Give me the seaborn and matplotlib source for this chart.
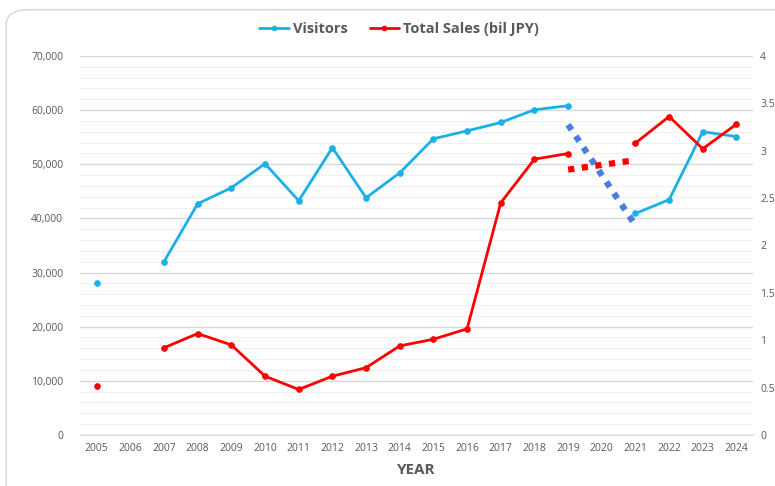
import numpy as np
import pandas as pd
import seaborn as sns
import matplotlib.pyplot as plt
from matplotlib.patches import FancyBboxPatch
from matplotlib.lines import Line2D
from matplotlib.ticker import FuncFormatter, MultipleLocator

years = list(range(2005, 2025))
visitors = [28100, np.nan, 32000, 42700, 45650, 50100, 43250, 53050, 43800, 48400,
            54700, 56150, 57700, 60050, 60800, np.nan, 40900, 43450, 56000, 55100]
sales = [0.52, np.nan, 0.92, 1.07, 0.95, 0.62, 0.48, 0.62, 0.71, 0.94,
         1.01, 1.12, 2.45, 2.91, 2.97, np.nan, 3.08, 3.36, 3.02, 3.28]
# dotted bridge over the 2020 gap (estimates)
bridge_years = [2019, 2021]
bridge_visitors = [57300, 38700]
bridge_sales = [2.80, 2.90]

blue = "#1cb0ea"
red = "#ff0000"
txt = "#595959"

df = pd.DataFrame({"year": years, "visitors": visitors, "sales": sales})
df["pos"] = range(len(df))
# split into connected runs so the gaps stay open
df["seg"] = df["visitors"].isna().cumsum()

sns.set_style("white")
plt.rcParams["font.family"] = ["Open Sans", "DejaVu Sans"]

fig = plt.figure(figsize=(7.75, 4.86), dpi=100)
frame = FancyBboxPatch((0.008, -0.1), 1.1, 1.08, boxstyle="round,pad=0,rounding_size=0.03",
                       transform=fig.transFigure, fc="white", ec="#d9d9d9", lw=1.2, zorder=-10)
fig.patches.append(frame)
ax = fig.add_axes([0.103, 0.105, 0.869, 0.78])
ax.set_facecolor("none")
ax2 = ax.twinx()

d = df.dropna()
sns.lineplot(data=d, x="pos", y="visitors", units="seg", estimator=None, color=blue,
             lw=2, marker="o", ms=4, mec=blue, ax=ax)
sns.lineplot(data=d, x="pos", y="sales", units="seg", estimator=None, color=red,
             lw=2, marker="o", ms=4, mec=red, ax=ax2)
bpos = [years.index(y) for y in bridge_years]
ax.plot(bpos, bridge_visitors, color="#4a7fdf", lw=4.5, ls=(0, (1, 1.2)))
ax2.plot(bpos, bridge_sales, color=red, lw=4.5, ls=(0, (1, 1.2)))

ax.set_xlim(-0.5, len(years) - 0.5)
ax.set_ylim(0, 70000)
ax2.set_ylim(0, 4)
ax.yaxis.set_major_locator(MultipleLocator(10000))
ax.yaxis.set_minor_locator(MultipleLocator(2000))
ax2.yaxis.set_major_locator(MultipleLocator(0.5))
ax.yaxis.set_major_formatter(FuncFormatter(lambda v, p: f"{int(v):,}"))
ax2.yaxis.set_major_formatter(FuncFormatter(lambda v, p: f"{v:g}"))
ax.grid(which="major", axis="y", color="#d9d9d9", lw=1)
ax.grid(which="minor", axis="y", color="#f0f0f0", lw=0.8)
ax.set_axisbelow(True)

ax.set_xticks(range(len(years)))
ax.set_xticklabels([str(y) for y in years])
ax.set_xticks(np.arange(-0.5, len(years)), minor=True)
ax.tick_params(axis="x", which="major", length=0, labelsize=7.5, colors=txt, pad=6)
ax.tick_params(axis="x", which="minor", length=4, color="#d9d9d9")
ax.tick_params(axis="y", which="both", length=0, labelsize=7.5, colors=txt, pad=12)
ax2.tick_params(axis="y", length=0, labelsize=7.5, colors=txt, pad=5)
for a in (ax, ax2):
    for s in ("top", "left", "right"):
        a.spines[s].set_visible(False)
ax.spines["bottom"].set_color("#d9d9d9")
ax2.spines["bottom"].set_visible(False)

ax.set_xlabel("YEAR", fontsize=11, fontweight="bold", color=txt, labelpad=6)
ax.set_ylabel("")
ax2.set_ylabel("")

handles = [Line2D([], [], color=blue, lw=2, marker="o", ms=3),
           Line2D([], [], color=red, lw=2, marker="o", ms=3)]
leg = fig.legend(handles, ["Visitors", "Total Sales (bil JPY)"], loc="center", bbox_to_anchor=(0.515, 0.94),
                 ncol=2, frameon=False, handlelength=2, columnspacing=1.5, handletextpad=0.3,
                 prop={"size": 10.5, "weight": "bold"})
for t in leg.get_texts():
    t.set_color(txt)

fig.savefig("out.png", dpi=100)
